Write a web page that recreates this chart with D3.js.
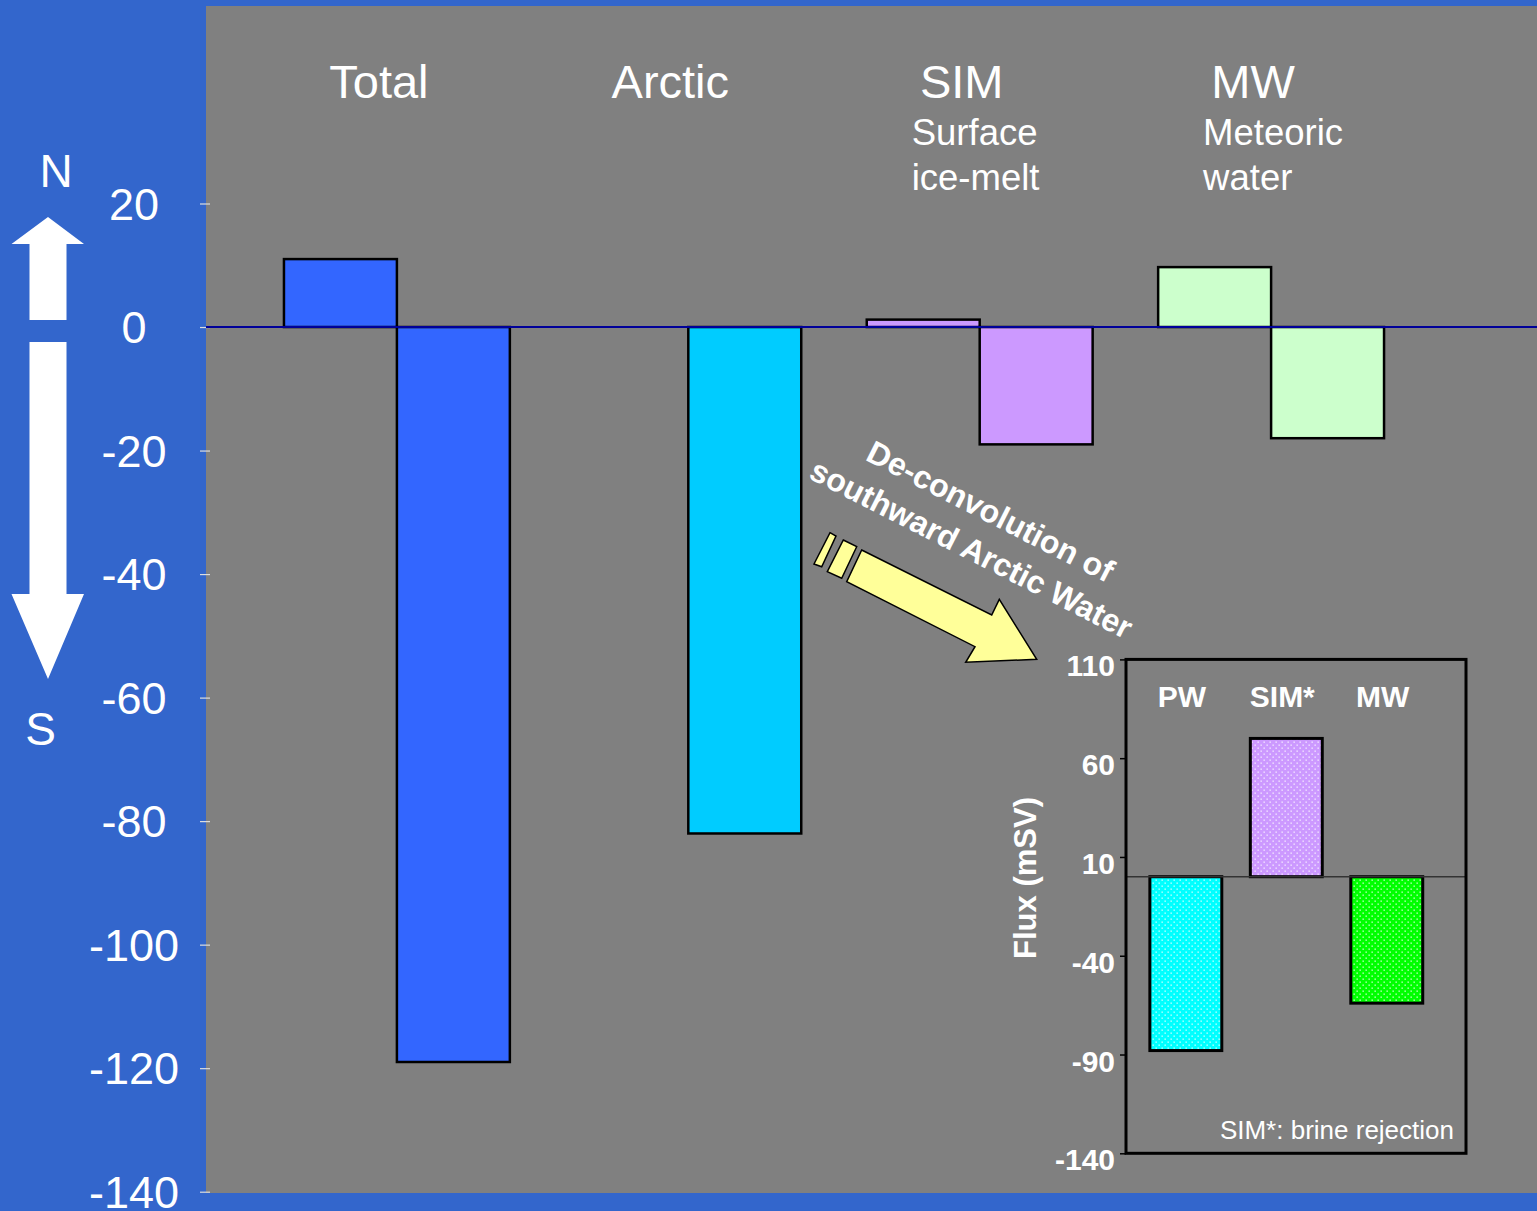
<!DOCTYPE html>
<html>
<head>
<meta charset="utf-8">
<script src="https://cdn.jsdelivr.net/npm/d3@7"></script>
<style>
  html, body { margin: 0; padding: 0; background: #3366CC; }
  svg { display: block; }
  text { font-family: "Liberation Sans", Arial, sans-serif; fill: #fff; }
</style>
</head>
<body>
<svg id="chart" width="1537" height="1211"></svg>
<script>
// Freshwater flux components (mSv); positive = northward, negative = southward
const groups = ["Total", "Arctic", "SIM", "MW"];
const groupSubtitles = [[], [], ["Surface", "ice-melt"], ["Meteoric", "water"]];
const directions = ["N", "S"];
const northFlux = [11, null, 1.2, 9.7];
const southFlux = [-119, -82, -19, -18];
const groupColors = ["#3366FF", "#00CCFF", "#CC99FF", "#CCFFCC"];
const mainTicks = [20, 0, -20, -40, -60, -80, -100, -120, -140];

// Deconvolution of the southward Arctic Water flux
const insetCats = ["PW", "SIM*", "MW"];
const insetFlux = [-88, 70, -64];
const insetColors = ["#00FFFF", "#CC99FF", "#00FF00"];
const insetTicks = [110, 60, 10, -40, -90, -140];

const svg = d3.select("#chart");
const W = 1537, H = 1211;
const plainNumber = d => String(d);

svg.append("rect").attr("width", W).attr("height", H).attr("fill", "#3366CC");

// Plot background
const plot = { x0: 206, x1: 1537, y0: 6, y1: 1193 };
svg.append("rect")
  .attr("x", plot.x0).attr("y", plot.y0)
  .attr("width", plot.x1 - plot.x0).attr("height", plot.y1 - plot.y0)
  .attr("fill", "#808080");

// Dotted fill patterns for inset bars
const defs = svg.append("defs");
insetColors.forEach((c, i) => {
  const p = defs.append("pattern")
    .attr("id", "dots" + i)
    .attr("patternUnits", "userSpaceOnUse")
    .attr("width", 6).attr("height", 6);
  p.append("rect").attr("width", 6).attr("height", 6).attr("fill", c);
  p.append("rect").attr("x", 0.5).attr("y", 0.5).attr("width", 1.3).attr("height", 1.3).attr("fill", "#fff").attr("opacity", 0.85);
  p.append("rect").attr("x", 3.5).attr("y", 3.5).attr("width", 1.3).attr("height", 1.3).attr("fill", "#fff").attr("opacity", 0.85);
});

// ---- Main chart scales ----
const y = d3.scaleLinear().domain([-140, 20]).range([1191.7, 203.5]);
const x = d3.scaleBand().domain(groups).range([251.2, 1416.8]).padding(0);
const xSub = d3.scaleBand().domain(directions).range([0, x.bandwidth()])
  .paddingInner(0).paddingOuter(0.29);

// Y axis (ticks + labels)
const yAxis = d3.axisLeft(y).tickValues(mainTicks).tickSize(10).tickPadding(0).tickFormat(plainNumber);
const yg = svg.append("g").attr("transform", `translate(${plot.x0 + 4},0)`).call(yAxis);
yg.select(".domain").remove();
yg.selectAll(".tick line").attr("stroke", "#ddd").attr("stroke-width", 1.2);
yg.selectAll(".tick text")
  .attr("x", -76).attr("text-anchor", "middle")
  .attr("dy", "0.35em")
  .style("font-family", "'Liberation Sans', Arial, sans-serif")
  .style("font-size", "45px").attr("fill", "#fff");

// Bars
const barData = [];
groups.forEach((g, i) => {
  if (northFlux[i] !== null) barData.push({ g, dir: "N", v: northFlux[i], color: groupColors[i] });
  if (southFlux[i] !== null) barData.push({ g, dir: "S", v: southFlux[i], color: groupColors[i] });
});
svg.append("g").selectAll("rect").data(barData).join("rect")
  .attr("x", d => x(d.g) + xSub(d.dir))
  .attr("width", xSub.bandwidth())
  .attr("y", d => y(Math.max(0, d.v)))
  .attr("height", d => Math.abs(y(d.v) - y(0)))
  .attr("fill", d => d.color)
  .attr("stroke", "#000").attr("stroke-width", 2.5);

// Zero line
svg.append("line")
  .attr("x1", plot.x0).attr("x2", plot.x1)
  .attr("y1", y(0)).attr("y2", y(0))
  .attr("stroke", "#000099").attr("stroke-width", 2);

// Group headings
const headX = g => x(g) + x.bandwidth() / 2 - 18;
svg.append("g").selectAll("text").data(groups).join("text")
  .attr("x", d => headX(d)).attr("y", 98)
  .attr("text-anchor", "middle")
  .style("font-size", "47px")
  .text(d => d);
groups.forEach((g, i) => {
  groupSubtitles[i].forEach((s, j) => {
    svg.append("text")
      .attr("x", headX(g) - 50).attr("y", 145 + j * 45)
      .style("font-size", "36.5px")
      .text(s);
  });
});

// North / South direction arrows
svg.append("text").attr("x", 56).attr("y", 187).attr("text-anchor", "middle").style("font-size", "46px").text("N");
svg.append("text").attr("x", 40.5).attr("y", 745).attr("text-anchor", "middle").style("font-size", "46px").text("S");
svg.append("polygon").attr("fill", "#fff")
  .attr("points", "48,217 84,244 66.5,244 66.5,320 29.5,320 29.5,244 11.5,244");
svg.append("polygon").attr("fill", "#fff")
  .attr("points", "29.5,342 66.5,342 66.5,594 84,594 48,679 11.5,594 29.5,594");

// Annotation text and arrow
const ann = svg.append("g").attr("transform", "translate(976,540) rotate(27)");
ann.append("text").attr("x", 0).attr("y", -21).attr("text-anchor", "middle")
  .style("font-size", "32px").style("font-weight", "bold").text("De-convolution of");
ann.append("text").attr("x", 0).attr("y", 21).attr("text-anchor", "middle")
  .style("font-size", "32px").style("font-weight", "bold").text("southward Arctic Water");

const arrowStyle = sel => sel.attr("fill", "#FFFF99").attr("stroke", "#000").attr("stroke-width", 1.5).attr("stroke-linejoin", "miter");
svg.append("polygon").call(arrowStyle)
  .attr("points", "861.7,550 991.7,615 999.3,599.3 1036.7,659.3 965.7,662.3 975,646.7 846.7,581.7");
svg.append("polygon").call(arrowStyle)
  .attr("points", "843.3,540 856.7,546.7 841.7,578.3 827.3,571.7");
svg.append("polygon").call(arrowStyle)
  .attr("points", "830,532.7 836,536 821.7,566.7 814,564");

// ---- Inset chart ----
const inset = { x0: 1126, x1: 1466, y0: 659.4, y1: 1153.3 };
const yi = d3.scaleLinear().domain([-140, 110]).range([inset.y1, inset.y0]);
const xi = d3.scaleBand().domain(insetCats).range([1135.6, 1437]).paddingInner(0.284).paddingOuter(0.142);

const yiAxis = d3.axisLeft(yi).tickValues(insetTicks).tickSize(6).tickPadding(0).tickFormat(plainNumber);
const yig = svg.append("g").attr("transform", `translate(${inset.x0},0)`).call(yiAxis);
yig.select(".domain").remove();
yig.selectAll(".tick line").attr("stroke", "#000").attr("stroke-width", 1.5);
yig.selectAll(".tick text")
  .attr("x", -11).attr("text-anchor", "end")
  .attr("dy", "0.55em")
  .style("font-family", "'Liberation Sans', Arial, sans-serif")
  .style("font-size", "30px").style("font-weight", "bold").attr("fill", "#fff");

svg.append("g").selectAll("rect").data(insetCats).join("rect")
  .attr("x", d => xi(d))
  .attr("width", xi.bandwidth())
  .attr("y", (d, i) => yi(Math.max(0, insetFlux[i])))
  .attr("height", (d, i) => Math.abs(yi(insetFlux[i]) - yi(0)))
  .attr("fill", (d, i) => `url(#dots${i})`)
  .attr("stroke", "#000").attr("stroke-width", 3);

svg.append("line")
  .attr("x1", inset.x0).attr("x2", inset.x1)
  .attr("y1", yi(0)).attr("y2", yi(0))
  .attr("stroke", "#333").attr("stroke-width", 1.5);

svg.append("rect")
  .attr("x", inset.x0).attr("y", inset.y0)
  .attr("width", inset.x1 - inset.x0).attr("height", inset.y1 - inset.y0)
  .attr("fill", "none").attr("stroke", "#000").attr("stroke-width", 3);

svg.append("g").selectAll("text").data(insetCats).join("text")
  .attr("x", d => xi(d) + xi.bandwidth() / 2 - 4)
  .attr("y", 707)
  .attr("text-anchor", "middle")
  .style("font-size", "30px").style("font-weight", "bold")
  .text(d => d);

svg.append("text")
  .attr("transform", "translate(1036,878) rotate(-90)")
  .attr("text-anchor", "middle")
  .style("font-size", "31px").style("font-weight", "bold")
  .text("Flux (mSV)");

svg.append("text")
  .attr("x", 1454).attr("y", 1139)
  .attr("text-anchor", "end")
  .style("font-size", "26px")
  .text("SIM*: brine rejection");
</script>
</body>
</html>
